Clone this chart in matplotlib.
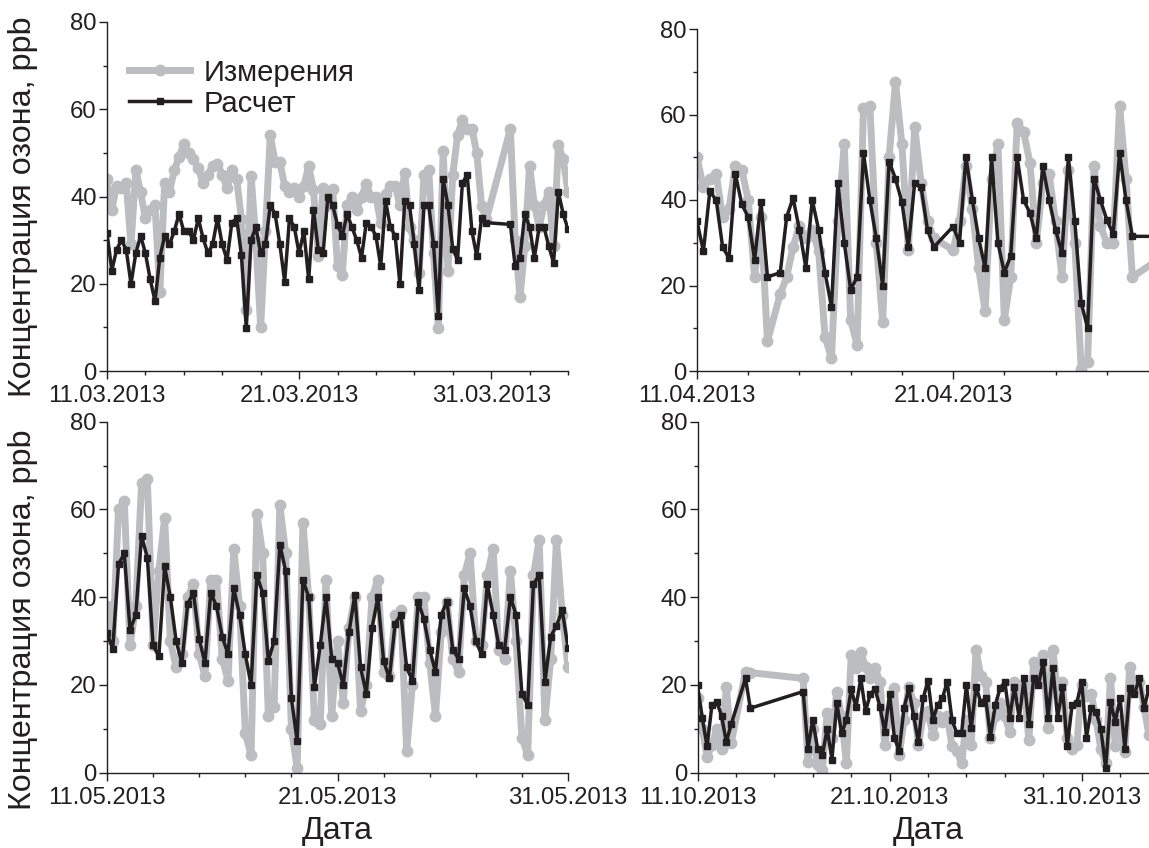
import numpy as np
import matplotlib
matplotlib.use('Agg')
import matplotlib.pyplot as plt
from matplotlib.ticker import MultipleLocator, FixedLocator

plt.rcParams['font.family'] = ['Liberation Sans', 'DejaVu Sans']

# ---------------- data (days from panel start, ppb) ----------------
# March 2013 (start 11.03.2013), 6-hourly, gap 20.0-20.75
mar_t = np.concatenate([np.arange(0, 19.76, 0.25), np.arange(21, 24.01, 0.25)])
mar_meas = [44, 37, 42.5, 42, 43, 29, 46, 41, 35, 37, 38, 18, 43, 41, 46, 49,
            52, 50, 48.5, 46.5, 43, 45, 47, 47.5, 45, 42, 46, 44, 34.8, 14, 44.8, 30,
            10, 32, 54, 48, 47.8, 42.5, 41, 42, 40, 42.5, 47, 41.5, 26.3, 42, 38, 41.7,
            24, 22, 38, 40, 37, 40, 42.8, 40, 40, 34, 40.5, 42.5, 42.5, 38, 45.5, 33,
            30, 22.5, 45, 46, 27, 9.8, 50.5, 23, 45, 54, 57.5, 55.5, 55.5, 50, 37.8, 34.8,
            55.5, 30, 17, 28.6, 47, 38, 33, 38, 41, 28.6, 51.7, 48.6, 41]
mar_calc = [31.7, 23, 27.8, 30, 27.8, 20, 27, 31, 27, 21, 16, 26, 31, 29, 32, 36,
            32, 32, 30, 35, 30.5, 27, 29, 35, 29, 25.5, 34, 35, 26.5, 9.8, 30, 33,
            27, 29, 38, 36, 29, 20.5, 35, 33, 27, 32, 21, 37, 27.8, 27, 40, 38,
            33.5, 31, 36, 33, 30, 26, 34, 33, 31, 24, 39, 33, 31, 20, 39, 38,
            29, 18.5, 38, 38, 29, 12.5, 44, 38, 28, 25.5, 43, 45, 32, 26.3, 35, 34,
            33.6, 24, 26, 36, 33, 26, 33, 33, 28.6, 24.8, 41, 36, 32.5]

# April 2013 (start 11.04.2013), 6-hourly with gaps
apr_t = np.concatenate([np.arange(0, 2.76, 0.25), np.arange(3.25, 9.26, 0.25),
                        np.arange(10, 17.01, 0.25), [18.0]])
apr_meas = [50, 43, 45, 46, 36, 38, 48, 47, 40, 22, 36, 7,
            18, 22, 29, 34, 31, 33, 28, 8, 3, 35, 53, 12, 6, 61.6, 62,
            30, 11.5, 50, 67.5, 53, 28.3, 57, 44, 35, 31,
            28.3, 35, 48, 38, 24, 14, 45, 53, 12, 22, 58, 56, 48.7, 30, 44, 46,
            35, 22, 47, 30, 0.5, 2, 48, 34, 30, 30, 62, 45, 22,
            26]
apr_calc = [35, 28, 42, 40, 29, 26.4, 46, 39, 36, 26, 39.5, 22,
            23, 36, 40.5, 33, 24.2, 40, 33, 23, 15, 44, 30, 19, 22, 51, 40,
            31, 20, 49, 45, 39.5, 29, 44, 43, 33, 29,
            33.8, 30, 50, 40, 31, 24, 50, 30, 23, 27, 50, 40, 37, 31, 48, 40,
            33, 27.6, 50, 35, 16, 10, 45, 40, 35.4, 32, 51, 40, 31.5,
            31.5]

# May 2013 (start 11.05.2013), 6-hourly
may_t = np.arange(0, 20.01, 0.25)
may_meas = [38, 30, 60, 62, 29, 38, 66, 67, 29, 46, 58, 30, 24, 27, 40, 43,
            27, 22, 44, 44, 26, 21, 51, 38, 9, 4, 59, 50, 13, 15, 61, 50,
            10, 1, 57, 40, 12, 11, 44, 13, 30, 16, 33, 40, 14, 20, 40, 44,
            23, 22, 36, 37, 5, 20, 40, 40, 25, 13, 32, 39, 26, 23, 45, 50,
            30, 29, 45, 51, 28, 26, 46, 30, 8, 4, 45, 53, 12, 26, 53, 36, 24]
may_calc = [31.8, 28.3, 47.5, 50, 32.5, 36, 54, 49, 29, 26.5, 47, 40, 30, 25, 38.5, 41,
            30.5, 25, 41, 38, 31, 27, 42, 36, 27, 20, 45, 41, 25.5, 30, 52, 46,
            17, 7.2, 44, 40, 19.6, 29, 40, 26, 25, 20, 32, 40.5, 24, 18, 33, 40,
            25.5, 21.5, 34, 36, 24, 21, 39, 35, 28, 23, 36, 39, 28, 26, 42, 38,
            30, 27, 43, 36, 29, 28, 40, 36, 18, 15.5, 43, 45, 20.7, 31, 33.5, 37, 28.5]

# October 2013 (start 11.10.2013), 6-hourly with gaps
oct_t = np.concatenate([np.arange(0, 1.76, 0.25), [2.5, 2.75], np.arange(5.5, 24.01, 0.25)])
oct_meas = [17, 10, 3.6, 6.3, 10, 5.5, 19.6, 6.7,
            23, 22.8,
            21.5, 2.5, 10, 1.7, 0.6, 13.5, 8, 18.5, 13, 2.1,
            26.8, 23.8, 27.6, 24, 21.5, 23.8, 20.7, 6.3, 14, 19.2, 4, 12,
            19.6, 16, 6.3, 13, 14, 8.6, 13, 11.6, 13, 6, 5, 2.1,
            12, 6.3, 28, 22, 20.7, 7.8, 13, 16, 13, 9.3, 20.7, 18,
            20, 7.4, 25.3, 22, 26.8, 10.1, 28, 18, 20.7, 8, 5.5, 6.3,
            20, 17.5, 18, 12, 5.5, 2.1, 21.5, 6, 12, 4.8, 24.2, 20,
            20.7, 15, 8.6, 12, 13]
oct_calc = [20, 12.4, 6, 15.4, 16.2, 13, 7, 11,
            21.5, 14.7,
            18.5, 5.5, 12, 5.5, 4, 10, 3, 16, 9, 12,
            19, 15, 21.5, 14, 18, 19, 15, 9.3, 18, 8, 5, 14.7,
            19.2, 13, 7, 17, 21, 12, 15.4, 17, 20.7, 12, 9, 9,
            20, 10.1, 19.6, 16, 17, 8.2, 15.4, 19.2, 20.7, 12.4, 19.6, 12.4,
            21.5, 11, 21.5, 20, 25.3, 12.4, 23.8, 12.4, 19.6, 6, 15.4, 16,
            20.7, 8, 14.7, 13.9, 10, 1, 16.2, 11.6, 17, 5.5, 19.2, 18,
            21.5, 14.7, 19.2, 16, 17]

mar_labels = ['11.03.2013', '21.03.2013', '31.03.2013']
apr_labels = ['11.04.2013', '21.04.2013']
may_labels = ['11.05.2013', '21.05.2013', '31.05.2013']
oct_labels = ['11.10.2013', '21.10.2013', '31.10.2013']

series_names = ['Измерения', 'Расчет']
ylabel = 'Концентрация озона, ppb'
xlabel = 'Дата'

# ---------------- figure ----------------
W, H = 1149, 848
fig = plt.figure(figsize=(W / 100, H / 100), dpi=100)

def px_axes(x0, x1, ytop, ybot):
    return fig.add_axes([x0 / W, 1 - ybot / H, (x1 - x0) / W, (ybot - ytop) / H])

GRAY = '#bcbdc0'
BLACK = '#231f20'

panels = [
    (px_axes(107, 568, 22, 371), mar_t, mar_meas, mar_calc, mar_labels, 24),
    (px_axes(697, 1158, 29, 371), apr_t, apr_meas, apr_calc, apr_labels, 18),
    (px_axes(107, 568, 421.7, 772.7), may_t, may_meas, may_calc, may_labels, 20),
    (px_axes(697.5, 1158.5, 421.7, 772.7), oct_t, oct_meas, oct_calc, oct_labels, 24),
]

for i, (ax, t, meas, calc, labels, span) in enumerate(panels):
    ax.plot(t, meas, color=GRAY, lw=5.0, marker='o', ms=7.5, mfc=GRAY, mec=GRAY,
            zorder=2, label=series_names[0])
    ax.plot(t, calc, color=BLACK, lw=2.5, marker='s', ms=4.6, mfc=BLACK, mec=BLACK,
            zorder=3, label=series_names[1])
    ax.set_xlim(0, span)
    ax.set_ylim(0, 80)
    for s in ('top', 'right'):
        ax.spines[s].set_visible(False)
    for s in ('left', 'bottom'):
        ax.spines[s].set_linewidth(1.0)
        ax.spines[s].set_color('#231f20')
    ax.yaxis.set_major_locator(FixedLocator([0, 20, 40, 60, 80]))
    ax.yaxis.set_minor_locator(MultipleLocator(10))
    ax.xaxis.set_major_locator(FixedLocator([10 * k for k in range(len(labels))]))
    ax.set_xticklabels(labels)
    ax.xaxis.set_minor_locator(MultipleLocator(2))
    ax.tick_params(which='major', direction='out', length=5.5, width=1.0,
                   labelsize=17.2, pad=2, colors='#231f20')
    ax.tick_params(which='minor', direction='out', length=3.0, width=1.0, colors='#231f20')
    ax.tick_params(axis='x', which='major', pad=4.5)

ax_tl, ax_tr, ax_bl, ax_br = [p[0] for p in panels]

ax_tl.set_ylabel(ylabel, fontsize=23.3, color='#231f20')
ax_tl.yaxis.set_label_coords(-0.150, 0.47)
ax_bl.set_ylabel(ylabel, fontsize=23.3, color='#231f20')
ax_bl.yaxis.set_label_coords(-0.150, 0.435)

ax_bl.set_xlabel(xlabel, fontsize=23, color='#231f20')
ax_bl.xaxis.set_label_coords(0.5, -0.122)
ax_br.set_xlabel(xlabel, fontsize=23, color='#231f20')
ax_br.xaxis.set_label_coords(0.5, -0.122)

ax_tl.legend(loc='upper left', bbox_to_anchor=(0.048, 0.895), frameon=False,
             fontsize=21, handlelength=2.1, handletextpad=0.45, labelspacing=0.1,
             borderaxespad=0, borderpad=0, labelcolor='#231f20')

fig.savefig('out.png', dpi=100)
